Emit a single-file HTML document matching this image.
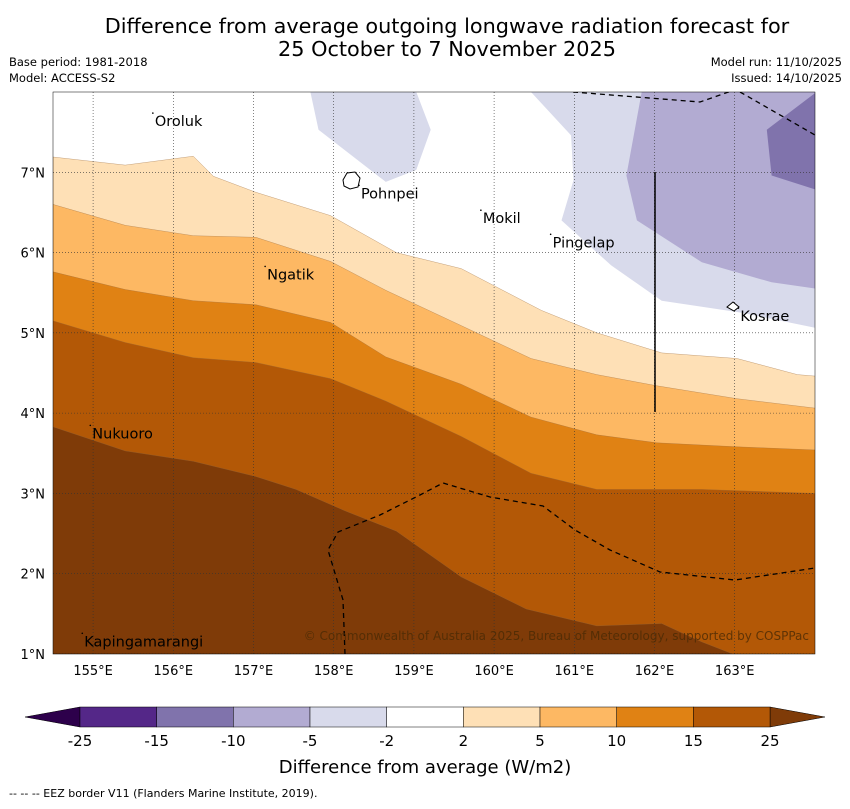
<!DOCTYPE html>
<html><head><meta charset="utf-8"><style>
body{margin:0;background:#fff;width:850px;height:804px;overflow:hidden;font-family:"Liberation Sans","DejaVu Sans",sans-serif}
svg text{font-family:"DejaVu Sans","Liberation Sans",sans-serif}
</style></head><body>
<svg id="s" width="850" height="804" xmlns="http://www.w3.org/2000/svg">
<text x="447" y="33" font-size="20.8" text-anchor="middle">Difference from average outgoing longwave radiation forecast for</text>
<text x="447" y="56" font-size="20.8" text-anchor="middle">25 October to 7 November 2025</text>
<text x="9" y="66" font-size="11.5">Base period: 1981-2018</text>
<text x="9" y="82" font-size="11.5">Model: ACCESS-S2</text>
<text x="842" y="66" font-size="11.5" text-anchor="end">Model run: 11/10/2025</text>
<text x="842" y="82" font-size="11.5" text-anchor="end">Issued: 14/10/2025</text>
<defs><clipPath id="mc"><rect x="53" y="92" width="762" height="562"/></clipPath></defs>
<g id="map" clip-path="url(#mc)"></g>
<g id="ax"></g>
<g id="cb"></g>
<text x="425" y="773" font-size="18" text-anchor="middle">Difference from average (W/m2)</text>
<text x="9" y="797" font-size="11">--  --  -- EEZ border V11 (Flanders Marine Institute, 2019).</text>
</svg>
<script>
const lonTicks=[155,156,157,158,159,160,161,162,163];
const latTicks=[1,2,3,4,5,6,7];
const b2Lon=[154.5,155.4,156.25,156.5,157.03,157.96,158.78,159.59,160.59,161.28,162.09,163.03,163.78,164.02];
const b2Lat=[7.19,7.09,7.2,6.95,6.75,6.46,6.0,5.8,5.28,5.0,4.75,4.68,4.48,4.46];
const b5Lon=[154.5,155.4,156.25,157.03,157.96,158.65,159.59,160.46,161.28,162.03,163.03,164.02];
const b5Lat=[6.6,6.34,6.21,6.19,5.89,5.53,5.09,4.68,4.48,4.34,4.18,4.06];
const b10Lon=[154.5,155.4,156.25,157.03,157.96,158.65,159.59,160.46,161.28,162.03,163.03,164.02];
const b10Lat=[5.76,5.54,5.4,5.35,5.13,4.7,4.36,3.95,3.73,3.63,3.58,3.54];
const b15Lon=[154.5,155.4,156.25,157.03,157.96,158.65,159.59,160.46,161.28,162.59,164.02];
const b15Lat=[5.15,4.88,4.69,4.63,4.43,4.15,3.71,3.25,3.05,3.05,3.0];
const b25Lon=[154.5,155.4,156.25,157.03,157.53,158.15,158.78,159.59,160.4,161.28,162.09,162.59,163.03];
const b25Lat=[3.83,3.53,3.4,3.21,3.05,2.78,2.53,1.96,1.56,1.35,1.38,1.15,0.98];
const p2aLon=[157.71,157.81,158.65,159.03,159.21,159.03];
const p2aLat=[8,7.53,6.88,7.03,7.53,8];
const p2bLon=[160.46,160.96,160.99,160.84,161.46,162.09,163.09,164.02,164.02];
const p2bLat=[8,7.46,6.9,6.4,5.84,5.4,5.25,5.06,8];
const p5Lon=[161.84,161.65,161.78,162.59,163.46,164.02,164.02];
const p5Lat=[8,6.96,6.4,5.88,5.63,5.55,8];
const p10Lon=[164.02,163.4,163.46,164.02];
const p10Lat=[8,7.53,6.96,6.78];
const levels=["-25","-15","-10","-5","-2","2","5","10","15","25"];
const levelColors=["#542788","#8073ac","#b2abd2","#d8daeb","#ffffff","#fee0b6","#fdb863","#e08214","#b35806"];
const islandNames=["Oroluk","Pohnpei","Mokil","Pingelap","Ngatik","Kosrae","Nukuoro","Kapingamarangi"];
const islandLon=[155.77,158.34,159.86,160.73,157.17,163.07,154.99,154.89];
const islandLat=[7.7,6.8,6.49,6.19,5.79,5.27,3.81,1.22];
const NS="http://www.w3.org/2000/svg";
const X=lon=>53+(lon-154.5)*80.2;
const Y=lat=>92+(8-lat)*80.28;
function mk(tag,attrs,parent){const e=document.createElementNS(NS,tag);for(const k in attrs)e.setAttribute(k,attrs[k]);parent.appendChild(e);return e;}
const map=document.getElementById('map'),ax=document.getElementById('ax'),cb=document.getElementById('cb');
let r=mk('rect',{x:53,y:92,width:762,height:562,fill:'#fff'},map);


function band(lons,lats,color,name){
  let d='M'+X(lons[0])+','+Y(0.5);
  for(let i=0;i<lons.length;i++)d+=' L'+X(lons[i]).toFixed(1)+','+Y(lats[i]).toFixed(1);
  d+=' L'+X(164.5)+','+Y(lats[lats.length-1])+' L'+X(164.5)+','+Y(0.5)+'Z';
  const p=mk('path',{d:d,fill:color,stroke:'#9a6a3a','stroke-width':0.3},map);
  
  
}
band(b2Lon,b2Lat,levelColors[5],'band-2-to-5');
band(b5Lon,b5Lat,levelColors[6],'band-5-to-10');
band(b10Lon,b10Lat,levelColors[7],'band-10-to-15');
band(b15Lon,b15Lat,levelColors[8],'band-15-to-25');
band(b25Lon,b25Lat,'#7f3b08','band-above-25');
function poly(lons,lats,color,name){
  let d='';
  for(let i=0;i<lons.length;i++)d+=(i?' L':'M')+X(lons[i]).toFixed(1)+','+Y(lats[i]).toFixed(1);
  d+=' L'+X(lons[lons.length-1])+','+(Y(lats[lats.length-1])-20)+' L'+X(lons[0])+','+(Y(lats[0])-20)+'Z';
  const p=mk('path',{d:d,fill:color},map);
  
  
}
poly(p2aLon,p2aLat,levelColors[3],'band-neg2-to-neg5-west');
poly(p2bLon,p2bLat,levelColors[3],'band-neg2-to-neg5-east');
poly(p5Lon,p5Lat,levelColors[2],'band-neg5-to-neg10');
poly(p10Lon,p10Lat,levelColors[1],'band-neg10-to-neg15');
lonTicks.forEach(v=>{
  const l=mk('line',{x1:X(v),x2:X(v),y1:92,y2:654,stroke:'#333','stroke-width':0.6,'stroke-dasharray':'1,2'},map);
  
  
  const t=mk('text',{x:X(v),y:675,'font-size':13,'text-anchor':'middle'},ax);t.textContent=v+'°E';
  
  
});
latTicks.forEach(v=>{
  const l=mk('line',{x1:53,x2:815,y1:Y(v),y2:Y(v),stroke:'#333','stroke-width':0.6,'stroke-dasharray':'1,2'},map);
  
  
  const t=mk('text',{x:45,y:Y(v)+5,'font-size':13,'text-anchor':'end'},ax);t.textContent=v+'°N';
  
  
});
let e1=mk('path',{d:'M573,92 L700,102 L740,88 M740,92 L815,135',fill:'none',stroke:'#000','stroke-width':1.3,'stroke-dasharray':'5,4'},map);


let e2=mk('path',{d:'M345,654 L343,600 L328,550 L338,532 L380,515 L420,495 L443,483 L490,497 L543,506 L575,530 L610,550 L660,572 L735,580 L815,568',fill:'none',stroke:'#000','stroke-width':1.3,'stroke-dasharray':'5,4'},map);


let vl=mk('line',{x1:655,x2:655,y1:172,y2:412,stroke:'#000','stroke-width':1.5},map);


islandNames.forEach((n,i)=>{
  const t=mk('text',{x:X(islandLon[i]),y:Y(islandLat[i])+10,'font-size':14.5},map);t.textContent=n;
  
  
  const d=mk('circle',{cx:X(islandLon[i])-2,cy:Y(islandLat[i])-3,r:0.8,fill:'#000'},map);
  
  
});
let pi=mk('path',{d:'M343,180 L347,173 L355,172 L360,178 L358,187 L350,189 L344,186 Z',fill:'#fff',stroke:'#000','stroke-width':1},map);


let ko=mk('path',{d:'M727,307 L733,302 L739,307 L734,311 Z',fill:'#fff',stroke:'#000','stroke-width':1},map);


let cp=mk('text',{x:809,y:640,'font-size':12,'text-anchor':'end',fill:'#4a2a05','fill-opacity':0.8},map);
cp.textContent='© Commonwealth of Australia 2025, Bureau of Meteorology, supported by COSPPac';


let fr=mk('rect',{x:53,y:92,width:762,height:562,fill:'none',stroke:'#000','stroke-width':0.5},ax);


const cbX=i=>80+i*76.67;
let lt=mk('path',{d:'M80,707 L25,717 L80,727Z',fill:'#2d004b',stroke:'#000','stroke-width':0.5},cb);


let rt=mk('path',{d:'M770,707 L825,717 L770,727Z',fill:'#7f3b08',stroke:'#000','stroke-width':0.5},cb);


levelColors.forEach((c,i)=>{
  const s=mk('rect',{x:cbX(i),y:707,width:76.67,height:20,fill:c,stroke:'#000','stroke-width':0.5},cb);
  
  
});
levels.forEach((l,i)=>{
  const t=mk('text',{x:cbX(i),y:746,'font-size':15,'text-anchor':'middle'},cb);t.textContent=l;
  
  
});
</script>
</body></html>
